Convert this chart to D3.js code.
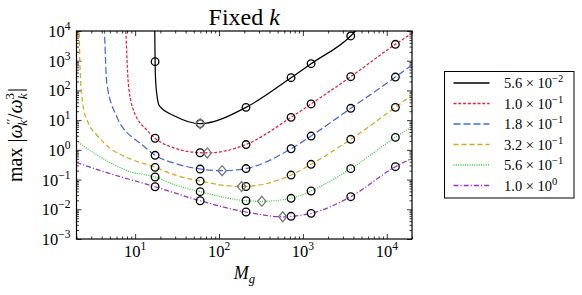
<!DOCTYPE html>
<html>
<head>
<meta charset="utf-8">
<script src="https://cdn.jsdelivr.net/npm/d3@7"></script>
<style>
  body { margin: 0; background: #fff; }
  svg { font-family: "Liberation Serif", "DejaVu Serif", serif; }
</style>
</head>
<body>
<svg id="chart" width="582" height="295"></svg>
<script>
// M_g positions of the circle markers (shared by all curves)
const mgMarks = [17.3, 59.6, 210, 723, 1253, 3720, 12680];

// legend labels: k = mantissa x 10^exp
const kMant = ['5.6', '1.0', '1.8', '3.2', '5.6', '1.0'];
const kExp = ['\u22122', '\u22121', '\u22121', '\u22121', '\u22121', '0'];

// curve values at the marker positions
const markK1 = [930, 7.6, 27, 268, 792, 6800, null];
const markK2 = [2.46, 0.80, 1.51, 12.4, 35, 290, 3570];
const markK3 = [0.655, 0.226, 0.235, 1.09, 2.92, 25, 282];
const markK4 = [0.258, 0.089, 0.0585, 0.142, 0.326, 2.27, 27];
const markK5 = [0.122, 0.039, 0.0194, 0.0234, 0.0412, 0.232, 2.64];
const markK6 = [0.0574, 0.0194, 0.0081, 0.0058, 0.0073, 0.0265, 0.271];

// extra points, [M_g, value]
const extraK1 = [[17.1, 2e4], [17.6, 190], [18.3, 62], [19.5, 30], [30, 13.5], [4500, 1.2e4]];
const extraK2 = [[7.6, 3e4], [7.74, 1e4], [8.3, 170], [9.55, 22], [13.8, 4.65], [30, 1.13], [72.5, 0.79], [2e4, 8400]];
const extraK3 = [[4.25, 3e4], [4.31, 1e4], [4.6, 170], [6.05, 13], [8, 3.8], [9.55, 2.5], [12, 1.5], [30, 0.35], [109, 0.199], [2e4, 718]];
const extraK4 = [[2.12, 3e4], [2.15, 1e4], [2.2, 630], [2.41, 28], [2.77, 7.8], [3.49, 3.16], [5.03, 1.13], [7.6, 0.59], [30, 0.142], [186, 0.058], [2e4, 70]];
const extraK5 = [[2, 2.0], [3, 0.9], [5, 0.38], [8, 0.2], [30, 0.066], [324, 0.0185], [2e4, 6]];
const extraK6 = [[2, 0.375], [4.8, 0.165], [575, 0.0056], [2e4, 0.52]];

// minimum of each curve (diamonds)
const minMg = [59.6, 72.5, 109, 186, 324, 575];
const minVal = [7.6, 0.79, 0.199, 0.058, 0.0185, 0.0056];

const xMajor = [1e1, 1e2, 1e3, 1e4];
const xMajorExp = ['1', '2', '3', '4'];
const yMajor = [1e-3, 1e-2, 1e-1, 1e0, 1e1, 1e2, 1e3, 1e4];
const yMajorExp = ['\u22123', '\u22122', '\u22121', '0', '1', '2', '3', '4'];

const colors = ['#000000', '#e2223f', '#4169e1', '#daa520', '#2ed02e', '#9932cc'];
const dashes = [null, '3,1.8', '7,3', '5,3', '1,1.3', '5,2,1.2,2'];

const marks = [markK1, markK2, markK3, markK4, markK5, markK6];
const extras = [extraK1, extraK2, extraK3, extraK4, extraK5, extraK6];

const margin = {left: 76.5, top: 31, right: 170, bottom: 56};
const width = 582 - margin.left - margin.right;
const height = 295 - margin.top - margin.bottom;

const svg = d3.select('#chart');
const g = svg.append('g')
    .attr('transform', 'translate(' + margin.left + ',' + margin.top + ')');

const x = d3.scaleLog().domain([2, 2e4]).range([0, width]);
const y = d3.scaleLog().domain([1e-3, 1e4]).range([height, 0]);

svg.append('defs').append('clipPath').attr('id', 'plotclip')
    .append('rect').attr('width', width).attr('height', height);

// ticks on all four sides, pointing in
const xMinor = x.ticks().filter(v => xMajor.indexOf(v) < 0);
const yMinor = y.ticks().filter(v => !yMajor.some(m => Math.abs(m - v) / v < 1e-9));

function tickAxis(axis, values, size, transform) {
    const a = g.append('g')
        .attr('transform', transform)
        .call(axis.tickValues(values).tickSize(size).tickFormat(''));
    a.select('.domain').remove();
    a.selectAll('line').attr('stroke', '#000').attr('stroke-width', 0.8);
}
tickAxis(d3.axisBottom(x), xMajor, -5, 'translate(0,' + height + ')');
tickAxis(d3.axisBottom(x), xMinor, -2.5, 'translate(0,' + height + ')');
tickAxis(d3.axisTop(x), xMajor, -5, 'translate(0,0)');
tickAxis(d3.axisTop(x), xMinor, -2.5, 'translate(0,0)');
tickAxis(d3.axisLeft(y), yMajor, -5, 'translate(0,0)');
tickAxis(d3.axisLeft(y), yMinor, -2.5, 'translate(0,0)');
tickAxis(d3.axisRight(y), yMajor, -5, 'translate(' + width + ',0)');
tickAxis(d3.axisRight(y), yMinor, -2.5, 'translate(' + width + ',0)');

// tick labels as 10^n
xMajor.forEach((v, i) => {
    const t = g.append('text')
        .attr('x', x(v))
        .attr('y', height + 18)
        .attr('text-anchor', 'middle')
        .attr('font-size', 16.5);
    t.append('tspan').text('10');
    t.append('tspan').attr('font-size', 11.5).attr('dy', -7).text(xMajorExp[i]);
});
yMajor.forEach((v, i) => {
    const t = g.append('text')
        .attr('x', -6)
        .attr('y', y(v) + 6)
        .attr('text-anchor', 'end')
        .attr('font-size', 16.5);
    t.append('tspan').text('10');
    t.append('tspan').attr('font-size', 11.5).attr('dy', -7).text(yMajorExp[i]);
});

const line = d3.line()
    .x(d => x(d[0]))
    .y(d => y(d[1]))
    .curve(d3.curveMonotoneX);

const curves = g.append('g').attr('clip-path', 'url(#plotclip)');
marks.forEach((mk, i) => {
    const pts = mgMarks.map((m, j) => [m, mk[j]])
        .filter(d => d[1] !== null)
        .concat(extras[i])
        .sort((a, b) => a[0] - b[0]);
    curves.append('path')
        .datum(pts)
        .attr('d', line)
        .attr('fill', 'none')
        .attr('stroke', colors[i])
        .attr('stroke-width', 1.25)
        .attr('stroke-dasharray', dashes[i]);
});

// circle markers
marks.forEach(mk => {
    g.append('g').selectAll('circle')
        .data(mgMarks.map((m, j) => [m, mk[j]]).filter(d => d[1] !== null))
        .enter().append('circle')
        .attr('cx', d => x(d[0]))
        .attr('cy', d => y(d[1]))
        .attr('r', 3.8)
        .attr('fill', 'none')
        .attr('stroke', '#000')
        .attr('stroke-width', 1.3);
});

// diamonds at the minima
g.append('g').selectAll('path')
    .data(minMg.map((m, i) => [m, minVal[i]]))
    .enter().append('path')
    .attr('transform', d => 'translate(' + x(d[0]) + ',' + y(d[1]) + ')')
    .attr('d', 'M0,-5L4.2,0L0,5L-4.2,0Z')
    .attr('fill', 'none')
    .attr('stroke', '#777')
    .attr('stroke-width', 1.3);

g.append('rect')
    .attr('width', width)
    .attr('height', height)
    .attr('fill', 'none')
    .attr('stroke', '#000')
    .attr('stroke-width', 1.2);

// title
const title = svg.append('text')
    .attr('x', margin.left + width / 2)
    .attr('y', 25)
    .attr('text-anchor', 'middle')
    .attr('font-size', 24);
title.append('tspan').text('Fixed ');
title.append('tspan').attr('font-style', 'italic').text('k');

// x label
const xl = svg.append('text')
    .attr('x', margin.left + width / 2)
    .attr('y', 279)
    .attr('text-anchor', 'middle')
    .attr('font-size', 18)
    .attr('font-style', 'italic');
xl.append('tspan').text('M');
xl.append('tspan').attr('font-size', 12.5).attr('dy', 4).text('g');

// y label
const yl = svg.append('text')
    .attr('transform', 'translate(22,' + (margin.top + height / 2) + ') rotate(-90)')
    .attr('text-anchor', 'middle')
    .attr('font-size', 20);
yl.append('tspan').text('max |');
yl.append('tspan').attr('font-style', 'italic').text('\u03c9');
yl.append('tspan').attr('font-size', 13).attr('dy', -7).text('\u2032\u2032');
yl.append('tspan').attr('font-size', 13).attr('font-style', 'italic').attr('dx', -7).attr('dy', 12).text('k');
yl.append('tspan').attr('dx', 1).attr('dy', -5).text('/');
yl.append('tspan').attr('font-style', 'italic').text('\u03c9');
yl.append('tspan').attr('font-size', 13).attr('font-style', 'italic').attr('dy', 5).text('k');
yl.append('tspan').attr('font-size', 13).attr('dx', -6).attr('dy', -13).text('3');
yl.append('tspan').attr('dx', 1).attr('dy', 8).text('|');

// legend
const legend = svg.append('g').attr('transform', 'translate(444.5,71.5)');
legend.append('rect')
    .attr('width', 129.5)
    .attr('height', 126.5)
    .attr('fill', '#fff')
    .attr('stroke', '#000')
    .attr('stroke-width', 1);
kMant.forEach((mant, i) => {
    const ly = 11.5 + i * 20.5;
    legend.append('line')
        .attr('x1', 9).attr('x2', 45)
        .attr('y1', ly).attr('y2', ly)
        .attr('stroke', colors[i])
        .attr('stroke-width', 1.4)
        .attr('stroke-dasharray', dashes[i]);
    const t = legend.append('text')
        .attr('x', 59.5)
        .attr('y', ly + 5)
        .attr('font-size', 14.5);
    t.append('tspan').text(mant + ' \u00d7 10');
    t.append('tspan').attr('font-size', 10.5).attr('dy', -6).text(kExp[i]);
});
</script>
</body>
</html>
